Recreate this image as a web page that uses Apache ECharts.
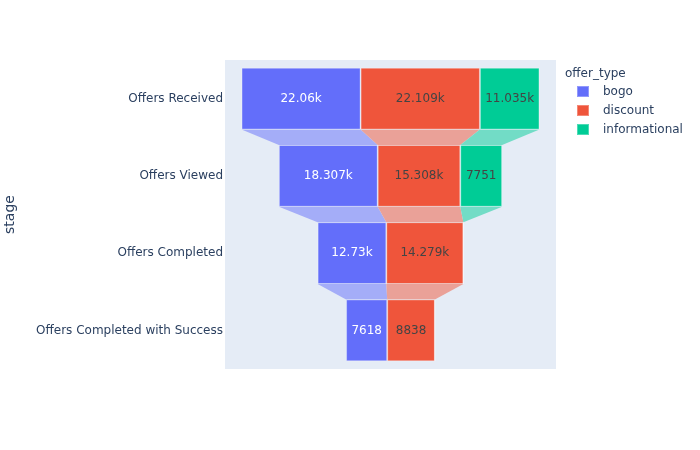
<!DOCTYPE html>
<html>
<head>
<meta charset="utf-8">
<script src="https://cdn.jsdelivr.net/npm/echarts@6/dist/echarts.min.js"></script>
<style>
  html, body { margin: 0; padding: 0; background: #fff; }
  #chart { width: 700px; height: 450px; }
</style>
</head>
<body>
<div id="chart"></div>
<script>
const stages = ['Offers Received', 'Offers Viewed', 'Offers Completed', 'Offers Completed with Success']
const offerTypes = ['bogo', 'discount', 'informational']
const bogo = [22060, 18307, 12730, 7618]
const discount = [22109, 15308, 14279, 8838]
const informational = [11035, 7751, 0, 0]

const colors = ['#636EFA', '#EF553B', '#00CC96']
const connectorColors = ['#A4ADF8', '#EAA198', '#72DCC6']
const labelColors = ['#ffffff', '#444444', '#444444']
const seriesValues = [bogo, discount, informational]
const font = 'DejaVu Sans'

// totals per stage and the padding that centres each row
const totals = stages.map((s, i) => bogo[i] + discount[i] + informational[i])
const maxTotal = Math.max(...totals)
const pad = totals.map(t => (maxTotal - t) / 2)
const span = maxTotal * 1.111
const xMin = -(span - maxTotal) / 2
const xMax = maxTotal + (span - maxTotal) / 2

const fmt = v => v >= 10000 ? (v / 1000) + 'k' : String(v)

const chart = echarts.init(document.getElementById('chart'), null, { renderer: 'canvas' })

const series = [{
  name: 'pad',
  type: 'bar',
  stack: 'total',
  barWidth: '80%',
  silent: true,
  itemStyle: { color: 'transparent' },
  data: pad
}]

offerTypes.forEach((name, k) => {
  series.push({
    name: name,
    type: 'bar',
    stack: 'total',
    barWidth: '80%',
    itemStyle: {
      color: colors[k],
      borderColor: 'rgba(255,255,255,0.3)',
      borderWidth: 1
    },
    label: {
      show: true,
      position: 'inside',
      color: labelColors[k],
      fontFamily: font,
      fontSize: 12,
      formatter: p => p.value > 0 ? fmt(p.value) : ''
    },
    data: seriesValues[k]
  })

  // connector trapezoids between consecutive stages
  const conn = []
  for (let i = 0; i < stages.length - 1; i++) {
    let s0 = pad[i], s1 = pad[i + 1]
    for (let j = 0; j < k; j++) {
      s0 += seriesValues[j][i]
      s1 += seriesValues[j][i + 1]
    }
    conn.push([i, s0, s0 + seriesValues[k][i], s1, s1 + seriesValues[k][i + 1]])
  }
  series.push({
    name: name,
    type: 'custom',
    silent: true,
    z: 1,
    encode: { x: [1, 2, 3, 4], y: 0 },
    renderItem: (params, api) => {
      const i = api.value(0)
      const h = api.size([0, 1])[1] * 0.4
      const a = api.coord([api.value(1), i])
      const b = api.coord([api.value(2), i])
      const c = api.coord([api.value(4), i + 1])
      const d = api.coord([api.value(3), i + 1])
      return {
        type: 'polygon',
        shape: { points: [[a[0], a[1] + h], [b[0], b[1] + h], [c[0], c[1] - h], [d[0], d[1] - h]] },
        style: { fill: connectorColors[k] }
      }
    },
    data: conn
  })
})

const option = {
  animation: false,
  textStyle: { fontFamily: font },
  title: {
    text: 'offer_type',
    left: 560,
    top: 63,
    textStyle: { fontFamily: font, fontSize: 12, fontWeight: 'normal', color: '#2a3f5f' }
  },
  legend: {
    data: offerTypes,
    orient: 'vertical',
    left: 571,
    top: 80,
    icon: 'rect',
    itemWidth: 12,
    itemHeight: 11,
    itemGap: 6,
    textStyle: { fontFamily: font, fontSize: 12, color: '#2a3f5f', padding: [0, 0, 0, 9] }
  },
  grid: {
    left: 225,
    top: 60,
    width: 331,
    height: 309,
    show: true,
    backgroundColor: '#E5ECF6',
    borderWidth: 0
  },
  xAxis: {
    type: 'value',
    min: xMin,
    max: xMax,
    show: false
  },
  yAxis: {
    type: 'category',
    inverse: true,
    data: stages,
    axisLine: { show: false },
    axisTick: { show: false },
    axisLabel: { color: '#2a3f5f', fontSize: 12, fontFamily: font, margin: 2 },
    name: 'stage',
    nameLocation: 'middle',
    nameRotate: 90,
    nameGap: 208,
    nameTextStyle: { color: '#2a3f5f', fontSize: 14, fontFamily: font }
  },
  series: series
}

chart.setOption(option)
</script>
</body>
</html>
